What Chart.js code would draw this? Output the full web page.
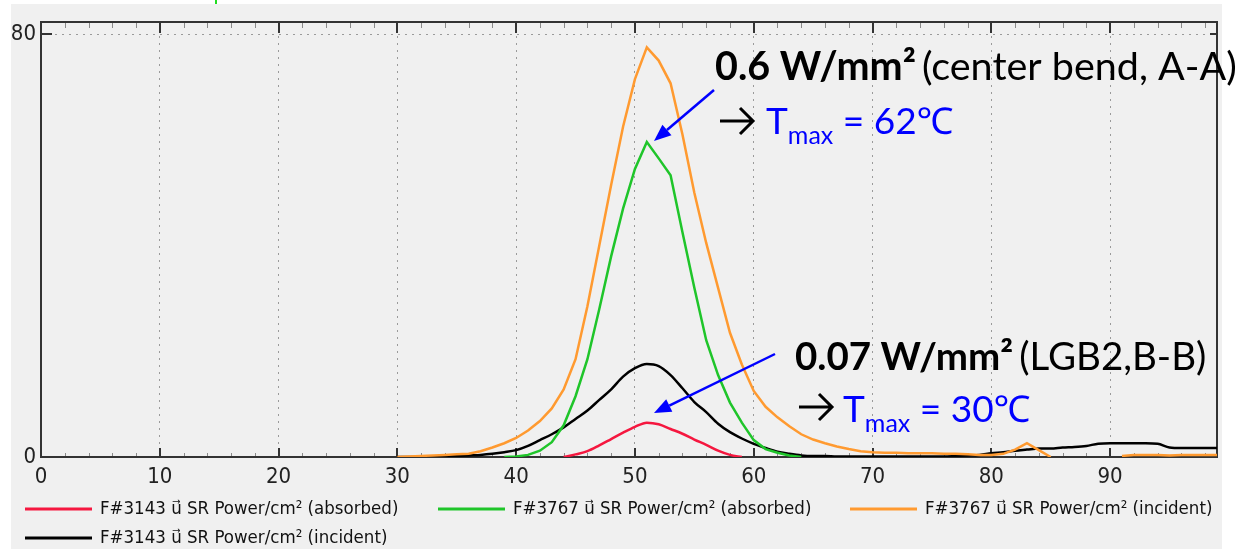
<!DOCTYPE html>
<html>
<head>
<meta charset="utf-8">
<script src="https://cdn.jsdelivr.net/npm/chart.js@4.4.1/dist/chart.umd.min.js"></script>
<style>
  html, body { margin: 0; padding: 0; background: #fff; }
  #wrap { width: 1252px; height: 549px; }
</style>
</head>
<body>
<div id="wrap"><canvas id="chart" width="1252" height="549"></canvas></div>
<script>
/* Leistungsdichte entlang der Position — 4 Kurven */

// x positions of the samples
const xs = [30, 31, 32, 33, 34, 35, 36, 37, 38, 39,
            40, 41, 42, 43, 44, 45, 46, 47, 48, 49,
            50, 51, 52, 53, 54, 55, 56, 57, 58, 59,
            60, 61, 62, 63, 64, 65, 66, 67, 68, 69,
            70, 71, 72, 73, 74, 75, 76, 77, 78, 79,
            80, 81, 82, 83, 84, 85, 86, 87, 88, 89,
            90, 91, 92, 93, 94, 95, 96, 97, 98, 99];

const xTicks = [0, 10, 20, 30, 40, 50, 60, 70, 80, 90];
const yTicks = [0, 80];

// F#3143 absorbed (red)
const redAbsorbed = [null, null, null, null, null, null, null, null, null, null,
                     null, null, null, null, 0, 0.5, 1.1, 2.2, 3.4, 4.6,
                     5.7, 6.5, 6.2, 5.3, 4.4, 3.3, 2.3, 1.2, 0.4, 0,
                     null, null, null, null, null, null, null, null, null, null,
                     null, null, null, null, null, null, null, null, null, null,
                     null, null, null, null, null, null, null, null, null, null,
                     null, null, null, null, null, null, null, null, null, null];

// F#3767 absorbed (green)
const greenAbsorbed = [null, null, null, null, null, null, null, null, null, 0,
                       0.1, 0.4, 1.2, 2.8, 6, 11.5, 18.5, 28, 38, 47,
                       54.5, 59.6, 56.5, 53.3, 42.5, 32, 22.1, 15.5, 10.3, 6.5,
                       3.2, 1.5, 0.8, 0.3, 0, null, null, null, null, null,
                       null, null, null, null, null, null, null, null, null, null,
                       null, null, null, null, null, null, null, null, null, null,
                       null, null, null, null, null, null, null, null, null, null];

// F#3767 incident (orange)
const orangeIncident = [0, 0.1, 0.2, 0.3, 0.4, 0.5, 0.6, 1.1, 1.8, 2.6,
                        3.6, 5.0, 6.8, 9.2, 12.8, 18.5, 28.5, 40, 51.5, 62.5,
                        71.5, 77.5, 75, 70.7, 61, 50, 40.5, 32, 23.5, 17.5,
                        12.5, 9.5, 7.5, 5.8, 4.3, 3.3, 2.6, 2.0, 1.5, 1.1,
                        0.9, 0.8, 0.8, 0.7, 0.7, 0.7, 0.6, 0.6, 0.5, 0.4,
                        0.4, 0.6, 1.4, 2.6, 1.3, 0, null, null, null, null,
                        null, 0.2, 0.4, 0.4, 0.4, 0.3, 0.4, 0.4, 0.4, 0.4];

// F#3143 incident (black)
const blackIncident = [0, 0, 0, 0, 0.1, 0.2, 0.3, 0.4, 0.6, 0.9,
                       1.3, 2.1, 3.2, 4.3, 5.6, 7.2, 8.8, 10.8, 12.8, 15.2,
                       16.8, 17.6, 17.2, 15.5, 13, 10.4, 8.5, 6.3, 4.7, 3.5,
                       2.5, 1.7, 1.0, 0.6, 0.3, 0.2, 0.2, 0.1, 0.1, 0.1,
                       0.1, 0.1, 0.1, 0.1, 0.1, 0.1, 0.1, 0.2, 0.3, 0.4,
                       0.7, 0.9, 1.2, 1.4, 1.6, 1.6, 1.8, 1.9, 2.1, 2.5,
                       2.6, 2.6, 2.6, 2.6, 2.5, 1.8, 1.7, 1.7, 1.7, 1.7];

const seriesLabels = [
  'F#3143 u\u20D7 SR Power/cm\u00B2 (absorbed)',
  'F#3767 u\u20D7 SR Power/cm\u00B2 (absorbed)',
  'F#3767 u\u20D7 SR Power/cm\u00B2 (incident)',
  'F#3143 u\u20D7 SR Power/cm\u00B2 (incident)'
];
const seriesColors = ['#f5173f', '#1fc52a', '#ff9a30', '#000000'];

const SMALL_FONT = '"Liberation Sans Narrow", "DejaVu Sans Condensed", sans-serif';
const BIG_FONT = 'Lato, "Noto Sans", "Noto Sans CJK SC", sans-serif';
const BLUE = '#0000ff';

function toPoints(arr) {
  return xs.map((x, i) => ({ x: x, y: arr[i] }));
}

function drawRuns(ctx, x, baseline, runs) {
  ctx.textBaseline = 'alphabetic';
  ctx.textAlign = 'left';
  runs.forEach(r => {
    ctx.font = r.font;
    ctx.fillStyle = r.color || '#000';
    ctx.fillText(r.text, x, baseline + (r.dy || 0));
    x += ctx.measureText(r.text).width + (r.gap || 0);
  });
}

function drawBlueArrow(ctx, x1, y1, x2, y2) {
  const ang = Math.atan2(y2 - y1, x2 - x1);
  const len = 17, half = 7;
  const bx = x2 - len * Math.cos(ang), by = y2 - len * Math.sin(ang);
  ctx.strokeStyle = BLUE;
  ctx.fillStyle = BLUE;
  ctx.lineWidth = 2.5;
  ctx.beginPath();
  ctx.moveTo(x1, y1);
  ctx.lineTo(bx, by);
  ctx.stroke();
  ctx.beginPath();
  ctx.moveTo(x2, y2);
  ctx.lineTo(bx + half * Math.sin(ang), by - half * Math.cos(ang));
  ctx.lineTo(bx - half * Math.sin(ang), by + half * Math.cos(ang));
  ctx.closePath();
  ctx.fill();
}

function drawBlackArrow(ctx, x, y) {
  ctx.strokeStyle = '#000';
  ctx.lineWidth = 3;
  ctx.lineCap = 'butt';
  ctx.beginPath();
  ctx.moveTo(x, y);
  ctx.lineTo(x + 33, y);
  ctx.moveTo(x + 20, y - 13);
  ctx.lineTo(x + 33, y);
  ctx.lineTo(x + 20, y + 13);
  ctx.stroke();
}

const framePlugin = {
  id: 'frame',
  beforeDraw(chart) {
    const ctx = chart.ctx;
    ctx.save();
    ctx.fillStyle = '#ffffff';
    ctx.fillRect(0, 0, chart.width, chart.height);
    ctx.fillStyle = '#f0f0f0';
    ctx.fillRect(11, 4, 1211, 545);
    ctx.fillStyle = '#22dd22';
    ctx.fillRect(215, 0, 2, 4);
    ctx.restore();
  },
  beforeDatasetsDraw(chart) {
    const { ctx, chartArea: a, scales: { x, y } } = chart;
    ctx.save();
    // minor ticks every 2
    ctx.strokeStyle = '#8a8a8a';
    ctx.lineWidth = 1;
    for (let v = 2; v < 99; v += 2) {
      if (v % 10 === 0) continue;
      const px = Math.round(x.getPixelForValue(v)) + 0.5;
      ctx.beginPath();
      ctx.moveTo(px, a.top); ctx.lineTo(px, a.top + 6);
      ctx.moveTo(px, a.bottom); ctx.lineTo(px, a.bottom - 4);
      ctx.stroke();
    }
    // major ticks
    ctx.strokeStyle = '#333';
    ctx.lineWidth = 2;
    xTicks.forEach(v => {
      const px = Math.round(x.getPixelForValue(v));
      ctx.beginPath();
      ctx.moveTo(px, a.top); ctx.lineTo(px, a.top + 11);
      ctx.moveTo(px, a.bottom); ctx.lineTo(px, a.bottom - 9);
      ctx.stroke();
    });
    const py80 = Math.round(y.getPixelForValue(80));
    ctx.beginPath();
    ctx.moveTo(a.left, py80); ctx.lineTo(a.left + 11, py80);
    ctx.moveTo(a.right, py80); ctx.lineTo(a.right - 7, py80);
    ctx.stroke();
    // frame
    ctx.strokeStyle = '#333';
    ctx.lineWidth = 2;
    ctx.strokeRect(a.left, a.top, a.right - a.left, a.bottom - a.top);
    ctx.restore();
  },
  afterDatasetsDraw(chart) {
    const ctx = chart.ctx;
    ctx.save();
    // annotations
    drawRuns(ctx, 715, 80, [
      { text: '0.6 W/mm\u00B2', font: 'bold 39.5px ' + BIG_FONT, gap: 6 },
      { text: '(center bend, A-A)', font: '39.5px ' + BIG_FONT }
    ]);
    drawBlackArrow(ctx, 720, 121);
    drawRuns(ctx, 766, 134, [
      { text: 'T', font: '37px ' + BIG_FONT, color: BLUE },
      { text: 'max', font: '25px ' + BIG_FONT, color: BLUE, dy: 10 },
      { text: ' = 62\u2103', font: '37px ' + BIG_FONT, color: BLUE }
    ]);
    drawRuns(ctx, 795, 370, [
      { text: '0.07 W/mm\u00B2', font: 'bold 38.5px ' + BIG_FONT, gap: 6 },
      { text: '(LGB2,B-B)', font: '38.5px ' + BIG_FONT }
    ]);
    drawBlackArrow(ctx, 799, 407);
    drawRuns(ctx, 843, 422, [
      { text: 'T', font: '37px ' + BIG_FONT, color: BLUE },
      { text: 'max', font: '25px ' + BIG_FONT, color: BLUE, dy: 10 },
      { text: ' = 30\u2103', font: '37px ' + BIG_FONT, color: BLUE }
    ]);
    drawBlueArrow(ctx, 714, 90, 654, 141);
    drawBlueArrow(ctx, 775, 354, 654, 413);

    // legend
    const spots = [[25, 509], [438, 509], [850, 509], [25, 538]];
    chart.data.datasets.forEach((ds, i) => {
      const [lx, ly] = spots[i];
      ctx.strokeStyle = ds.borderColor;
      ctx.lineWidth = 3;
      ctx.beginPath();
      ctx.moveTo(lx, ly); ctx.lineTo(lx + 67, ly);
      ctx.stroke();
      ctx.fillStyle = '#111';
      ctx.font = '18.5px ' + SMALL_FONT;
      ctx.textBaseline = 'middle';
      ctx.fillText(ds.label, lx + 75, ly);
    });
    ctx.restore();
  }
};

new Chart(document.getElementById('chart'), {
  type: 'line',
  data: {
    datasets: [
      { label: seriesLabels[0], data: toPoints(redAbsorbed), borderColor: seriesColors[0], cubicInterpolationMode: 'monotone' },
      { label: seriesLabels[1], data: toPoints(greenAbsorbed), borderColor: seriesColors[1] },
      { label: seriesLabels[2], data: toPoints(orangeIncident), borderColor: seriesColors[2] },
      { label: seriesLabels[3], data: toPoints(blackIncident), borderColor: seriesColors[3], cubicInterpolationMode: 'monotone' }
    ]
  },
  options: {
    responsive: false,
    animation: false,
    devicePixelRatio: 1,
    layout: { padding: { top: 22, right: 35, left: 0, bottom: 0 } },
    elements: {
      point: { radius: 0 },
      line: { borderWidth: 2.5, tension: 0, fill: false }
    },
    plugins: {
      legend: { display: false },
      tooltip: { enabled: false }
    },
    scales: {
      x: {
        type: 'linear',
        min: 0,
        max: 99,
        afterFit: s => { s.height = 92; },
        afterBuildTicks: s => { s.ticks = xTicks.map(v => ({ value: v })); },
        grid: {
          color: c => (c.tick && c.tick.value === 0) ? 'rgba(0,0,0,0)' : '#9a9a9a',
          lineWidth: 1,
          drawTicks: false
        },
        border: { display: false, dash: [2, 5] },
        ticks: {
          padding: 7,
          color: '#222',
          maxRotation: 0,
          autoSkip: false,
          font: { family: SMALL_FONT, size: 22 }
        }
      },
      y: {
        min: 0,
        max: 82.3,
        afterFit: s => { s.width = 41; },
        afterBuildTicks: s => { s.ticks = yTicks.map(v => ({ value: v })); },
        grid: {
          color: c => (c.tick && c.tick.value === 0) ? 'rgba(0,0,0,0)' : '#9a9a9a',
          lineWidth: 1,
          drawTicks: false
        },
        border: { display: false, dash: [2, 5] },
        ticks: {
          padding: 5,
          color: '#222',
          font: { family: SMALL_FONT, size: 22 }
        }
      }
    }
  },
  plugins: [framePlugin]
});
</script>
</body>
</html>
